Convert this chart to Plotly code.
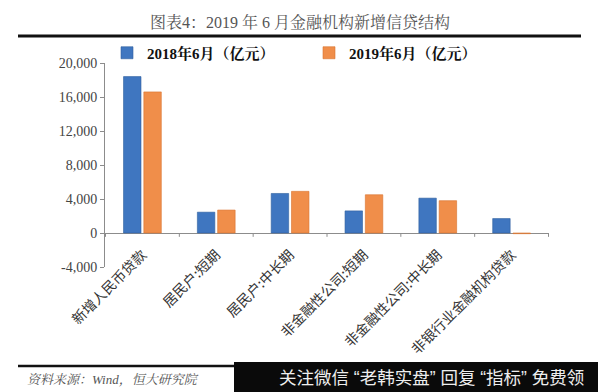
import plotly.graph_objects as go

categories = ["新增人民币贷款", "居民户:短期", "居民户:中长期", "非金融性公司:短期", "非金融性公司:中长期", "非银行业金融机构贷款"]
series_names = ["2018年6月（亿元）", "2019年6月（亿元）"]
values_2018 = [18400, 2450, 4650, 2600, 4100, 1700]
values_2019 = [16600, 2700, 4900, 4500, 3800, -80]
y_tickvals = [-4000, 0, 4000, 8000, 12000, 16000, 20000]
y_ticktext = ["-4,000", "0", "4,000", "8,000", "12,000", "16,000", "20,000"]

W, H = 598, 392
L, R, T, B = 105, 49, 63, 125

serif = "Liberation Serif, Times New Roman, Noto Serif CJK SC, Noto Sans CJK SC, serif"
cjk = "Noto Sans CJK SC, sans-serif"

fig = go.Figure()
fig.add_trace(go.Bar(x=categories, y=values_2018, name=series_names[0],
                     marker=dict(color="#3F76C0", line=dict(color="#2F5F9E", width=0.6))))
fig.add_trace(go.Bar(x=categories, y=values_2019, name=series_names[1],
                     marker=dict(color="#F08E4A", line=dict(color="#D9722D", width=0.6))))

def px2paper_x(px):
    return (px - L) / (W - L - R)

def px2paper_y(py):
    return (H - B - py) / (H - T - B)

fig.update_layout(
    width=W, height=H,
    margin=dict(l=L, r=R, t=T, b=B, autoexpand=False),
    paper_bgcolor="white", plot_bgcolor="white",
    barmode="group", bargap=0.45, bargroupgap=0.14,
    showlegend=True,
    legend=dict(orientation="h", x=px2paper_x(107), y=px2paper_y(53), xanchor="left", yanchor="middle",
                font=dict(family=serif, size=15, color="#111", weight="bold"), itemwidth=30, entrywidth=157,
                bgcolor="rgba(0,0,0,0)", tracegroupgap=0),
    xaxis=dict(showgrid=False, showline=False, ticks="", tickangle=-45,
               anchor="free", position=px2paper_y(243),
               tickfont=dict(family=cjk, size=14, color="#333"), zeroline=False),
    yaxis=dict(range=[-4000, 20000], tickvals=y_tickvals, ticktext=y_ticktext,
               showgrid=False, showline=True, linecolor="#8c8c8c", linewidth=1,
               ticks="outside", ticklen=4, tickcolor="#8c8c8c",
               tickfont=dict(family=serif, size=14, color="#444"),
               zeroline=True, zerolinecolor="#8c8c8c", zerolinewidth=1),
)

# category boundary tick marks on the zero line
for i in range(len(categories) + 1):
    fig.add_shape(type="line", xref="x", yref="y", x0=i - 0.5, x1=i - 0.5, y0=0, y1=-450,
                  line=dict(color="#8c8c8c", width=1))

# title
fig.add_annotation(text="图表4：2019 年 6 月金融机构新增信贷结构", xref="paper", yref="paper",
                   x=px2paper_x(300), y=px2paper_y(22), xanchor="center", yanchor="middle",
                   showarrow=False, font=dict(family=serif, size=16, color="#555"))
# rules
fig.add_shape(type="line", xref="paper", yref="paper", x0=px2paper_x(18), x1=px2paper_x(581),
              y0=px2paper_y(36), y1=px2paper_y(36), line=dict(color="#111", width=3))
fig.add_shape(type="line", xref="paper", yref="paper", x0=px2paper_x(18), x1=px2paper_x(240),
              y0=px2paper_y(366), y1=px2paper_y(366), line=dict(color="#111", width=2.5))
# source
fig.add_annotation(text="<i>资料来源：Wind，恒大研究院</i>", xref="paper", yref="paper",
                   x=px2paper_x(25), y=px2paper_y(379), xanchor="left", yanchor="middle",
                   showarrow=False, font=dict(family=serif, size=13, color="#555"))
# watermark box
fig.add_shape(type="rect", xref="paper", yref="paper", x0=px2paper_x(234), x1=px2paper_x(600),
              y0=px2paper_y(362), y1=px2paper_y(394), fillcolor="#0a0a0a", line=dict(width=0))
fig.add_annotation(text="关注微信 “老韩实盘” 回复 “指标” 免费领", xref="paper", yref="paper",
                   x=px2paper_x(277), y=px2paper_y(378), xanchor="left", yanchor="middle",
                   showarrow=False, font=dict(family="Liberation Sans, Noto Sans CJK SC, sans-serif", size=17.5, color="#eee"))

fig.write_html("out.html", config={"displayModeBar": False},
               post_script="document.body.style.margin='0';document.body.style.overflow='hidden';")
